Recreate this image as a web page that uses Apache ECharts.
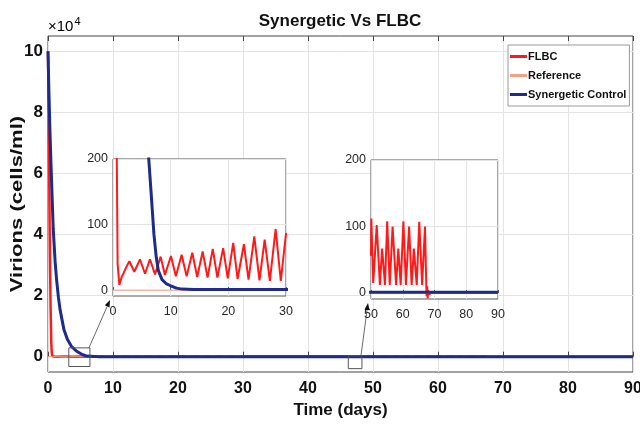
<!DOCTYPE html>
<html><head><meta charset="utf-8">
<script src="https://cdn.jsdelivr.net/npm/echarts@6/dist/echarts.min.js"></script>
<style>html,body{margin:0;padding:0;background:#fff}#c{width:640px;height:436px}</style>
</head><body><div id="c"></div>
<script>
// ---------- data ----------
const timeTicks = [0, 10, 20, 30, 40, 50, 60, 70, 80, 90];
const virionTicks = [0, 2, 4, 6, 8, 10];          // ×10^4 cells/ml
const insetYTicks = [0, 100, 200];
const inset1XTicks = [0, 10, 20, 30];
const inset2XTicks = [50, 60, 70, 80, 90];
const seriesNames = ['FLBC', 'Reference', 'Synergetic Control'];

const flbcT = [0, 0.1, 0.2, 0.3, 0.4, 0.5, 0.58, 0.66, 0.8, 1.1, 1.5, 1.8, 2.3, 2.83, 3.7, 4.68, 5.55, 6.41, 7.28, 8.26, 9.0,
  10.05, 10.9, 11.9, 12.77, 13.75, 14.6, 15.55, 16.4, 17.3, 18.1, 19.1, 19.9, 20.85, 21.6, 22.7, 23.5, 24.5, 25.4, 26.3,
  27.2, 28.2, 29.1, 30, 50, 50.1, 50.7, 51.8, 52.8, 53.5, 54.4, 55.1, 55.9, 56.8, 57.9, 58.6, 59.35, 60.2, 61.0, 62.0,
  62.8, 63.5, 64.4, 65.2, 66.1, 67.0, 67.3, 67.5, 67.7, 67.85, 68.0, 68.3, 68.6, 69, 90];
const flbcV = [100000, 80000, 55000, 33000, 16000, 5000, 1200, 200, 40, 8, 20, 25, 35, 44, 28, 47, 25, 47, 24, 51, 23,
  52, 21, 54, 21, 57, 20, 59, 19, 63, 19, 64, 18, 72, 17, 70, 16, 82, 15, 77,
  14, 93, 14, 86, 57, 112, 15, 102, 12, 67, 12, 108, 12, 100, 12, 67, 12, 108, 12, 100,
  12, 67, 12, 107, 12, 100, 35, -5, 10, -8, 4, -2, 1, 0, 0];

const synT = [0, 0.15, 0.3, 0.46, 0.8, 1.1, 1.33, 1.6, 1.85, 2.46, 3, 3.6, 4.4, 5.2, 5.8, 6.2, 6.6, 7.1, 7.5, 7.86,
  8.5, 9.2, 9.9, 11, 12, 14, 90];
const synV = [100000, 86000, 74000, 63000, 42000, 31000, 25000, 19500, 15500, 8800, 5600, 3400, 1800, 800, 320, 200, 150, 85, 50, 30,
  16, 10, 7, 3, 1.5, 1, 1];

const refT = [0, 90];
const refV = [0, 0];

// zoomed regions [xmin, xmax, ymin, ymax] in data units of the main axes
const zoomBox1 = [3.2, 6.45, -3200, 2900];
const zoomBox2 = [46.2, 48.3, -3900, 300];

// ---------- build ----------
const pairs = (t, v) => t.map((x, i) => [x, v[i]]);
const flbc = pairs(flbcT, flbcV), syn = pairs(synT, synV), ref = pairs(refT, refV);

const FONT = "'Liberation Sans',Arial,sans-serif";
const RED = '#ff1a1a', BLUE = '#1c2b8c', REFC = '#f2a285';

const chart = echarts.init(document.getElementById('c'), null, {renderer: 'canvas'});

const mainY = virionTicks.map(v => v * 1e4);
const insetY = {min: -9, max: 200};

function insetX(gi, ticks) {
  return {
    gridIndex: gi, type: 'value', min: ticks[0], max: ticks[ticks.length - 1], interval: 10, z: 6,
    axisLine: {show: false}, axisTick: {show: true, inside: true, length: 3, lineStyle: {color: '#555'}},
    axisLabel: {fontFamily: FONT, fontSize: 12.5, color: '#262626', margin: 9},
    splitLine: {show: true, lineStyle: {color: '#e3e3e3'}}
  };
}
function insetYAxis(gi) {
  return {
    gridIndex: gi, type: 'value', min: insetY.min, max: insetY.max, z: 6,
    axisLine: {show: false},
    axisTick: {show: false, customValues: insetYTicks},
    axisLabel: {fontFamily: FONT, fontSize: 12.5, color: '#262626', margin: 5, customValues: insetYTicks},
    splitLine: {show: true, lineStyle: {color: '#e3e3e3'}}
  };
}
function mk(name, data, xi, yi, color, width, z) {
  return {name, type: 'line', xAxisIndex: xi, yAxisIndex: yi, data, symbol: 'none', showSymbol: false,
    lineStyle: {color, width}, itemStyle: {color}, z, animation: false, clip: true, silent: true};
}
const gridBase = {show: true, borderWidth: 1, backgroundColor: '#fff', containLabel: false, outerBoundsMode: 'none'};

const option = {
  animation: false,
  backgroundColor: '#fff',
  legend: {
    data: seriesNames.map(n => ({name: n})), orient: 'vertical', left: 508, top: 45, selectedMode: false,
    backgroundColor: '#fff', borderColor: '#999', borderWidth: 1, padding: [6, 3, 6, 2], itemGap: 8,
    icon: 'rect', itemWidth: 17, itemHeight: 3, z: 10,
    textStyle: {fontFamily: FONT, fontSize: 11, fontWeight: 'bold', color: '#111', padding: [0, 0, 0, -4]}
  },
  grid: [
    Object.assign({left: 48, right: 7, top: 36, bottom: 64, borderColor: '#444'}, gridBase),
    Object.assign({left: 113, right: 354, top: 159, bottom: 140, borderColor: '#555', z: 4}, gridBase),
    Object.assign({left: 371, right: 142, top: 160, bottom: 137, borderColor: '#555', z: 4}, gridBase)
  ],
  xAxis: [
    {gridIndex: 0, type: 'value', min: timeTicks[0], max: timeTicks[timeTicks.length - 1], interval: 10,
      name: 'Time (days)', nameLocation: 'middle', nameGap: 30,
      nameTextStyle: {fontFamily: FONT, fontSize: 17, fontWeight: 'bold', color: '#111'},
      axisLine: {show: false}, axisTick: {show: true, inside: true, length: 5, lineStyle: {color: '#444'}},
      axisLabel: {fontFamily: FONT, fontSize: 16, fontWeight: 'bold', color: '#111', margin: 9},
      splitLine: {show: true, lineStyle: {color: '#e3e3e3'}}},
    {gridIndex: 0, type: 'value', position: 'top', min: timeTicks[0], max: timeTicks[timeTicks.length - 1], interval: 10,
      axisLine: {show: false}, axisTick: {show: true, inside: true, length: 5, lineStyle: {color: '#444'}},
      axisLabel: {show: false}, splitLine: {show: false}},
    insetX(1, inset1XTicks),
    insetX(2, inset2XTicks)
  ],
  yAxis: [
    {gridIndex: 0, type: 'value', min: -5000, max: 105000,
      axisLine: {show: false},
      axisTick: {show: false, customValues: mainY},
      axisLabel: {fontFamily: FONT, fontSize: 17, fontWeight: 'bold', color: '#111', margin: 5,
        customValues: mainY, formatter: v => String(Math.round(v / 1e4))},
      splitLine: {show: true, lineStyle: {color: '#e3e3e3'}}}
  ].concat([insetYAxis(1), insetYAxis(2)]),
  series: [
    mk('FLBC', flbc, 0, 0, RED, 2.5, 2),
    mk('Reference', ref, 0, 0, REFC, 1, 2),
    mk('Synergetic Control', syn, 0, 0, BLUE, 3, 3),
    mk('FLBC', flbc, 2, 1, RED, 2, 7),
    mk('Reference', ref, 2, 1, REFC, 1, 7),
    mk('Synergetic Control', syn, 2, 1, BLUE, 3, 8),
    mk('FLBC', flbc, 3, 2, RED, 2, 7),
    mk('Reference', ref, 3, 2, REFC, 1, 7),
    mk('Synergetic Control', syn, 3, 2, BLUE, 3, 8)
  ]
};
chart.setOption(option);

// ---------- annotations (zoom boxes + arrows), positioned through the axes ----------
function boxAndArrow(box, insetGrid, insetXMin) {
  const p1 = chart.convertToPixel({gridIndex: 0}, [box[0], box[3]]);
  const p2 = chart.convertToPixel({gridIndex: 0}, [box[1], box[2]]);
  const corner = chart.convertToPixel({gridIndex: insetGrid}, [insetXMin, insetY.min]);
  const start = [p2[0] - 1, p1[1]];
  const tip = [corner[0] - 3, corner[1] + 4];
  const dx = tip[0] - start[0], dy = tip[1] - start[1], L = Math.hypot(dx, dy);
  const ux = dx / L, uy = dy / L, hl = 7, hw = 2.6;
  const base = [tip[0] - ux * hl, tip[1] - uy * hl];
  return [
    {type: 'rect', z: 20, shape: {x: p1[0], y: p1[1], width: p2[0] - p1[0], height: p2[1] - p1[1]},
      style: {fill: 'none', stroke: '#555', lineWidth: 1}},
    {type: 'line', z: 20, shape: {x1: start[0], y1: start[1], x2: base[0], y2: base[1]},
      style: {stroke: '#444', lineWidth: 0.8}},
    {type: 'polygon', z: 20, shape: {points: [tip, [base[0] - uy * hw, base[1] + ux * hw], [base[0] + uy * hw, base[1] - ux * hw]]},
      style: {fill: '#111'}}
  ];
}
const yMid = chart.convertToPixel({gridIndex: 0}, [0, 50000])[1];
chart.setOption({
  graphic: [
    ...boxAndArrow(zoomBox1, 1, inset1XTicks[0]),
    ...boxAndArrow(zoomBox2, 2, inset2XTicks[0]),
    {type: 'text', z: 20, x: 340, y: 13, style: {text: 'Synergetic Vs FLBC', align: 'center',
      font: "bold 17px " + FONT, fill: '#111'}},
    {type: 'text', z: 20, x: 17, y: yMid, rotation: Math.PI / 2, scaleX: 1.3,
      style: {text: 'Virions (cells/ml)', align: 'center', verticalAlign: 'middle',
      font: "bold 17px " + FONT, fill: '#111'}},
    {type: 'text', z: 20, x: 48, y: 16, style: {text: '{a|×10}{b|4}', rich: {
      a: {fontFamily: FONT, fontSize: 15, color: '#111'},
      b: {fontFamily: FONT, fontSize: 11, color: '#111', padding: [0, 0, 10, 1]}}}}
  ]
});
</script>
</body></html>
